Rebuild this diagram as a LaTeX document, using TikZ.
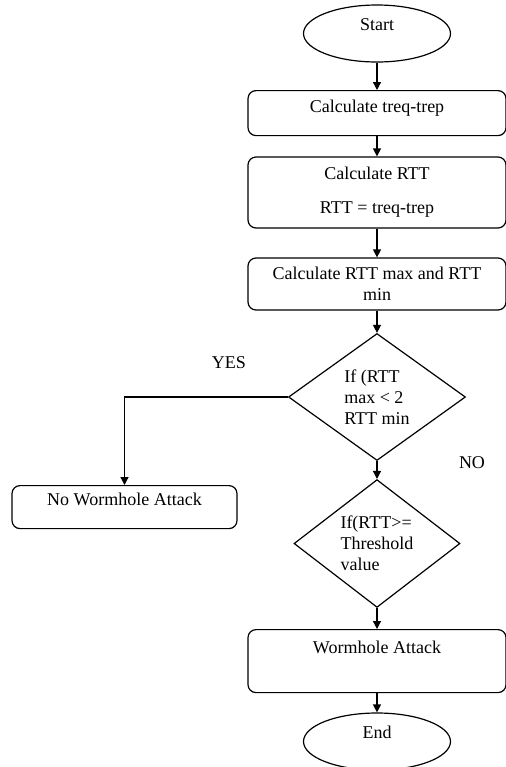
\documentclass[tikz,border=0pt]{standalone}
\usepackage{fontspec}
\setmainfont{Liberation Serif}
\usetikzlibrary{arrows.meta, shapes.geometric, positioning}

\begin{document}
\begin{tikzpicture}[x=0.5pt, y=-0.5pt, line width=0.6pt, font=\fontsize{9}{10.5}\selectfont,
	term/.style={draw, ellipse, inner sep=0pt, minimum width=73.5pt, minimum height=28.5pt, text height=6pt, text depth=9.5pt},
	box/.style={draw, rounded corners=4pt, inner sep=0pt, minimum width=129pt},
	test/.style={draw, diamond, inner sep=0pt, align=left},
	flow/.style={-{Triangle[length=4pt, width=4pt]}}]
					\useasboundingbox (0,0) rectangle (506,767);
					
					% Steps
					\node[term] (start) at (377,33.5) {Start};
					\node[box, anchor=north, text height=11pt, text depth=11.5pt] (treq) at (377,90) {Calculate treq-trep};
					\node[box, align=center, minimum height=35.5pt] (rtt) at (377,192.5) {Calculate RTT\\[6.5pt]RTT = treq-trep};
					\node[box, align=center, minimum height=26pt] (minmax) at (377,284) {Calculate RTT max and RTT\\min};
					\node[test, minimum width=88.5pt, minimum height=63.5pt] (cmp) at (377,397) {If (RTT\\max < 2\\RTT min};
					\node[box, anchor=north, minimum width=112.5pt, text height=10pt, text depth=11.5pt] (noattack) at (124.5,485) {No Wormhole Attack};
					\node[test, minimum width=83pt, minimum height=61.5pt] (thresh) at (377,543.5) {If(RTT>=\\Threshold\\value};
					\node[box, anchor=north, text height=12pt, text depth=19.5pt] (attack) at (377,629) {Wormhole Attack};
					\node[term] (end) at (377,741.5) {End};
					
					% Labels
					\node (yes) at (229,363) {YES};
					\node (no) at (472,463) {NO};
					
					% Flow
					\draw[flow] (start) -- (treq);
					\draw[flow] (treq) -- (rtt);
					\draw[flow] (rtt) -- (minmax);
					\draw[flow] (minmax) -- (cmp);
					\draw[flow] (cmp.west) -| (noattack.north);
					\draw[flow] (cmp) -- (thresh);
					\draw[flow] (thresh) -- (attack);
					\draw[flow] (attack) -- (end);
				\end{tikzpicture}
\end{document}
